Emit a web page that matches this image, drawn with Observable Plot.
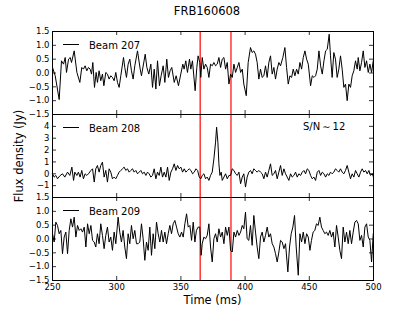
<!DOCTYPE html>
<html><head><meta charset="utf-8">
<script src="https://cdn.jsdelivr.net/npm/d3@7"></script>
<script src="https://cdn.jsdelivr.net/npm/@observablehq/plot@0.6"></script>
<style>
body{margin:0;background:#fff;}
#wrap{position:relative;width:415px;height:312px;background:#fff;font-family:"DejaVu Sans",sans-serif;overflow:hidden;}
#wrap svg{position:absolute;left:0;}
.lbl{position:absolute;white-space:nowrap;color:#000;}
.leg{position:absolute;font-size:10px;white-space:nowrap;}
.leg .ln{position:absolute;left:0;top:0;width:16px;border-top:1px solid #000;}
</style>
</head><body>
<div id="wrap"></div>
<script>
const title = "FRB160608";
const xLabel = "Time (ms)";
const yLabel = "Flux density (Jy)";
const beams = ["Beam 207", "Beam 208", "Beam 209"];
const snText = "S/N\u2009\u223C\u200912";
const xTicks = [250, 300, 350, 400, 450, 500];
const yTicksSmall = [-1.5, -1, -0.5, 0, 0.5, 1, 1.5];
const yTicks208 = [-1, 0, 1, 2, 3, 4];
const redLines = [365, 389];

const t207 = [250.0,252.1,255.2,257.0,258.6,259.9,260.9,262.5,263.8,264.8,266.9,269.0,271.3,272.8,274.1,275.4,276.7,278.0,279.3,280.4,281.4,282.7,284.0,285.0,286.3,287.6,288.9,290.0,291.5,292.8,294.1,295.4,296.7,298.0,299.3,300.6,301.9,303.2,305.3,306.3,307.6,308.9,310.2,311.5,312.8,314.1,316.2,318.3,319.3,322.2,323.5,325.0,326.6,327.9,329.2,330.5,331.8,333.3,334.6,336.2,337.5,339.0,340.3,341.6,342.9,344.8,346.3,348.1,349.9,351.5,352.5,353.8,355.1,356.7,357.7,359.0,361.1,362.4,363.4,364.7,365.5,366.6,367.9,369.2,370.5,371.8,373.1,374.4,375.7,377.0,378.3,379.6,380.9,382.2,383.5,384.8,386.1,387.4,388.7,390.0,391.3,392.6,393.9,395.2,396.5,397.8,399.0,400.9,402.4,404.2,405.5,406.8,408.1,409.4,410.7,412.0,413.3,414.6,415.9,417.2,418.5,419.8,421.1,422.4,423.7,425.0,426.3,427.6,429.4,431.0,432.3,433.6,434.9,436.2,437.5,438.8,440.1,441.4,442.7,444.0,445.3,446.6,447.9,449.2,451.0,452.3,453.6,454.9,456.2,457.5,458.8,460.1,461.4,462.7,464.0,465.5,466.5,467.8,469.1,470.4,471.7,473.0,474.3,475.6,476.9,478.2,479.5,480.8,482.1,483.4,484.7,486.0,487.3,488.1,489.4,490.7,492.0,493.3,494.6,495.9,497.2,498.5,499.8];
const v207 = [0.20,-0.10,-0.96,0.44,0.32,0.56,0.02,0.50,0.56,0.38,0.80,0.02,-0.34,0.20,0.14,0.26,0.08,0.20,0.14,-0.04,0.38,-0.52,0.02,-0.34,0.08,-0.28,-0.04,-0.46,0.02,-0.04,-0.22,-0.10,-0.16,-0.28,0.02,-0.34,-0.52,-0.10,0.56,0.20,-0.16,0.32,0.50,0.08,-0.22,0.26,0.80,0.14,-0.10,0.68,0.20,-0.04,0.32,-0.52,0.14,-0.58,0.44,-0.46,-0.10,0.26,-0.34,0.50,-0.16,0.08,0.20,-0.34,-0.10,-0.46,-0.04,0.32,0.14,0.44,0.02,0.50,0.14,0.44,-0.64,0.20,0.62,0.38,-0.16,0.56,0.14,0.32,0.20,-0.16,0.32,0.26,0.38,0.26,0.32,0.56,0.20,0.50,0.56,0.14,0.38,-0.40,-0.04,-0.16,0.32,0.02,0.20,0.38,0.02,0.14,-0.40,-0.82,0.38,0.92,0.74,0.80,0.68,0.38,-0.22,0.14,-0.16,-0.10,0.26,-0.16,0.38,0.62,-0.04,0.20,-0.22,0.14,0.38,0.26,0.56,0.92,0.20,-0.40,-0.10,-0.16,0.14,-0.10,0.14,-0.04,0.38,0.14,0.56,0.80,0.50,0.32,-0.46,-0.10,-0.16,-0.10,0.14,0.80,0.26,-0.04,0.44,0.80,0.86,1.40,0.62,-0.16,0.74,0.50,-0.16,0.14,0.62,0.14,-0.52,-0.40,-1.00,-0.40,-0.52,-0.10,0.08,0.44,0.14,0.56,0.08,0.38,0.80,0.20,0.44,0.02,0.32,0.02,0.44];

const t208 = [250.0,251.3,252.6,253.9,256.0,257.8,259.6,261.7,263.5,265.1,266.4,267.4,269.0,270.2,271.5,272.8,274.1,275.4,276.7,278.0,279.9,281.2,282.5,283.7,285.0,286.3,287.6,288.9,290.2,291.5,292.8,294.1,295.4,296.7,298.0,299.3,300.6,301.9,303.2,304.5,305.8,307.1,308.4,309.7,311.0,312.3,313.6,314.9,316.2,317.5,318.8,320.1,321.4,322.7,324.0,325.3,326.6,327.9,329.2,330.5,331.8,333.1,334.4,335.7,337.0,338.3,339.6,340.9,342.2,343.5,344.8,346.1,347.4,348.7,350.0,351.3,352.6,353.9,355.2,356.5,357.8,359.1,360.4,361.7,363.0,364.3,365.5,366.6,367.9,369.2,370.5,371.8,373.1,374.4,375.7,377.0,377.8,378.8,379.6,380.4,381.4,382.2,383.5,384.8,386.1,387.4,388.7,390.0,391.3,392.6,393.9,395.2,396.5,397.8,399.0,400.3,401.6,402.9,404.2,405.5,406.8,408.1,409.4,410.7,412.0,413.3,414.6,415.9,417.2,418.5,419.8,421.1,422.4,423.7,425.0,426.3,427.6,428.9,430.2,431.5,432.8,434.1,435.4,436.7,438.0,439.3,440.6,441.9,443.2,444.5,445.8,447.1,448.4,449.7,451.0,452.3,453.6,454.9,456.2,457.5,458.8,460.1,461.4,462.7,464.0,465.3,466.5,467.8,469.1,470.4,471.7,473.0,474.3,475.6,476.9,478.2,479.5,480.8,482.1,483.4,484.7,486.0,487.3,488.6,489.9,491.2,492.5,493.8,495.1,496.4,497.7,499.0,500.0];
const v208 = [0,-0.28,-0.14,-0.42,-0.14,0,-0.28,0.14,-0.14,0.56,-0.56,0.14,-0.14,0.14,-0.28,0.28,-0.42,0,-0.14,0,0.28,0.42,-0.70,0.42,0.70,0.14,0.70,0.98,-0.28,0.28,-0.70,0.42,0.14,-0.42,-0.28,-0.42,-0.14,0.14,0.28,0.42,0.56,0.28,0.42,0.14,0.28,0.42,0.14,0.28,0,0.14,0.28,0,0.14,-0.14,0.14,0,-0.28,-0.14,0.42,-0.42,0.14,-0.14,0.56,-0.28,0.14,-0.28,0.56,-0.56,0.14,0.42,0.84,0.28,0.70,0.42,0.56,0.14,0.42,0.14,0.28,0.42,0.28,0,0.14,0.42,0.28,-0.28,-0.42,-0.14,0,-0.42,-0.28,-0.56,-0.14,0.14,1.26,2.67,3.93,2.67,0.84,-0.14,0.14,-0.56,-0.28,0,-0.42,-0.14,-0.14,0.42,0.28,0,-0.14,0.14,-0.84,-0.28,0,-1.12,-0.28,0.14,0.28,0,0.42,0.28,0.14,0.28,0.14,0,-0.42,0.14,-0.28,0.28,0.84,-0.14,0,0.28,-0.42,0.14,0.70,-0.14,0.42,0,-0.28,-0.56,0,-0.28,-0.14,0.14,-0.28,0,-0.14,0.14,0.28,0,0.42,0.28,-0.14,-0.42,-0.28,-0.56,0.14,0.28,-0.14,0.14,0,-0.28,0,-0.14,0.14,0,0.14,0.42,0.28,0.14,0.42,0.14,0,0.28,0.70,0.14,-0.42,0,-0.28,0.28,0,-0.28,0.14,0.42,0.14,0.28,0,0.28,-0.14,0,-0.28];

const t209 = [250.0,251.3,252.6,253.9,255.2,256.5,257.8,259.1,260.4,261.7,263.0,264.3,265.6,266.9,268.2,269.5,270.8,272.1,273.4,274.7,276.0,277.3,278.6,279.9,281.2,282.5,283.7,285.0,286.3,287.6,288.9,290.2,291.5,292.8,294.1,295.4,296.7,298.0,299.3,301.1,302.4,303.7,305.0,306.3,307.6,308.9,310.2,311.5,312.8,314.1,315.4,316.7,318.0,319.3,320.6,321.9,323.2,324.5,325.8,327.1,328.4,329.7,331.0,332.3,333.6,334.9,336.2,337.5,338.8,340.1,341.4,342.7,344.0,345.3,346.6,347.9,349.2,350.5,351.8,353.1,354.4,355.7,357.0,358.3,359.6,360.9,362.1,363.4,364.7,365.8,366.6,367.9,369.2,370.5,371.8,373.1,374.4,375.7,377.0,378.3,379.6,380.9,382.2,383.5,384.8,386.1,387.4,388.7,390.0,391.3,392.6,393.9,395.2,396.5,397.8,399.0,400.3,401.6,402.9,404.2,405.5,406.8,408.1,409.4,410.7,412.0,413.3,414.6,415.9,417.2,418.5,419.8,421.1,422.4,423.7,425.0,426.3,427.6,428.9,430.2,431.5,433.3,434.6,435.9,437.2,438.5,439.8,441.4,442.7,444.0,445.3,446.6,447.9,449.2,450.5,451.7,453.0,454.3,455.6,456.9,458.2,459.5,460.8,462.1,463.4,464.7,466.0,467.3,468.6,469.9,471.2,472.5,473.8,475.1,476.4,477.7,479.0,480.3,481.6,482.9,484.2,485.5,486.8,488.1,489.4,490.7,492.0,493.3,494.6,495.9,497.2,498.5,499.8];
const v209 = [0.19,-0.11,0.61,0.49,0.19,0.31,-0.53,0.07,0.25,-0.53,0.31,0.73,0.43,0.79,0.07,0.49,0.31,0.37,0.25,0.43,-0.29,0.55,0.19,0.49,-0.05,-0.11,-0.29,0.19,-0.17,0.55,0.13,-0.35,0.13,0.43,-0.11,0.07,-0.41,0.25,-0.17,0.79,0.25,-0.11,0.31,-0.29,-0.71,0.19,-0.17,0.49,0.01,0.31,-0.17,-0.17,-0.11,0.55,0.01,-0.77,-0.11,-0.41,0.43,-0.59,0.19,-0.35,0.61,0.19,-0.11,0.31,-0.11,0.25,-0.17,0.19,0.49,0.19,0.55,0.67,0.43,0.19,0.07,0.25,0.07,0.55,0.91,0.43,0.49,-0.05,0.61,-0.11,0.31,0.43,0.43,-0.59,-0.17,0.07,0.01,0.13,0.55,-0.29,-0.83,0.01,0.19,-0.11,0.37,0.07,0.25,-0.17,0.43,0.13,0.43,-0.41,-0.47,0.25,0.07,0.31,0.13,0.25,0.49,0.37,0.97,0.01,-0.05,0.49,-0.23,0.85,0.25,-0.29,-0.71,0.07,0.25,-0.11,0.13,0.43,0.07,0.19,-0.17,-0.29,-0.53,-0.83,-0.47,-0.05,-0.11,-0.35,-0.17,-1.19,-0.29,0.19,0.43,0.85,-0.29,-1.31,0.19,-0.11,0.25,-0.17,0.19,0.07,-0.41,-0.05,0.25,0.31,0.55,0.49,0.79,0.43,0.31,0.19,0.25,0.13,0.31,0.07,0.25,-0.29,0.49,0.07,-0.41,-0.71,0.43,-0.11,0.25,-0.17,0.31,-0.17,0.25,0.61,0.67,0.55,-0.05,0.13,-0.29,0.43,0.55,0.07,-0.05,-0.83,0.19];

const W = 415, ML = 52, MR = 42, PH = 83;
const PW = W - ML - MR;
const minus = s => s.replace("-", "\u2212");

function panel({times, values, domain, ticks, fmt, mt, mb, showX}) {
  const data = times.map((t, i) => ({t, v: values[i]}));
  const marks = [
    Plot.ruleX(redLines, {stroke: "#ff0000", strokeWidth: 1.2}),
    Plot.line(data, {x: "t", y: "v", stroke: "black", strokeWidth: 1}),
    Plot.tickY(ticks, {y: d => d, insetRight: PW - 4, stroke: "black", strokeWidth: 0.8}),
    Plot.tickY(ticks, {y: d => d, insetLeft: PW - 4, stroke: "black", strokeWidth: 0.8}),
    Plot.tickX(xTicks, {x: d => d, insetBottom: PH - 4, stroke: "black", strokeWidth: 0.8}),
    Plot.tickX(xTicks, {x: d => d, insetTop: PH - 4, stroke: "black", strokeWidth: 0.8}),
    Plot.axisY({ticks, tickSize: 0, tickPadding: 3, tickFormat: fmt, label: null, fontSize: 8.5}),
    Plot.frame({stroke: "black", strokeWidth: 1})
  ];
  if (showX) marks.push(Plot.axisX({ticks: xTicks, tickSize: 0, tickPadding: 3, label: null, fontSize: 8.5}));
  return Plot.plot({
    width: W, height: mt + PH + mb,
    marginLeft: ML, marginRight: MR, marginTop: mt, marginBottom: mb,
    style: {fontFamily: "DejaVu Sans", fontSize: "8.5px", background: "transparent", overflow: "visible"},
    x: {domain: [250, 500], axis: showX ? undefined : null},
    y: {domain},
    marks
  });
}

const wrap = document.getElementById("wrap");
const fmtSmall = d => minus(d.toFixed(1));
const fmtInt = d => minus(String(d));

const p1 = panel({times: t207, values: v207, domain: [-1.5, 1.5], ticks: yTicksSmall, fmt: fmtSmall, mt: 31, mb: 10, showX: false});
const p2 = panel({times: t208, values: v208, domain: [-2, 5], ticks: yTicks208, fmt: fmtInt, mt: 10, mb: 10, showX: false});
const p3 = panel({times: t209, values: v209, domain: [-1.5, 1.5], ticks: yTicksSmall, fmt: fmtSmall, mt: 10, mb: 32, showX: true});
p1.style.top = "0px"; p2.style.top = "104px"; p3.style.top = "187px";
wrap.append(p1, p2, p3);

function addLabel(text, css) {
  const d = document.createElement("div");
  d.className = "lbl"; d.textContent = text;
  Object.assign(d.style, css);
  wrap.append(d);
  return d;
}
addLabel(title, {left: "207px", top: "11px", fontSize: "11.5px", transform: "translate(-50%,-50%)"});
addLabel(xLabel, {left: "212.5px", top: "300px", fontSize: "11.5px", transform: "translate(-50%,-50%)"});
addLabel(yLabel, {left: "19px", top: "155.5px", fontSize: "11.5px", transform: "translate(-50%,-50%) rotate(-90deg)"});
addLabel(snText, {left: "303px", top: "126px", fontSize: "10px", transform: "translateY(-50%)"});

[44, 127, 210].forEach((y, i) => {
  const ln = document.createElement("div");
  ln.className = "lbl";
  Object.assign(ln.style, {left: "63px", top: y + "px", width: "16px", borderTop: "1px solid #000", height: "0px"});
  wrap.append(ln);
  addLabel(beams[i], {left: "89px", top: (y + 0.5) + "px", fontSize: "10px", transform: "translateY(-50%)"});
});
</script>
</body></html>
